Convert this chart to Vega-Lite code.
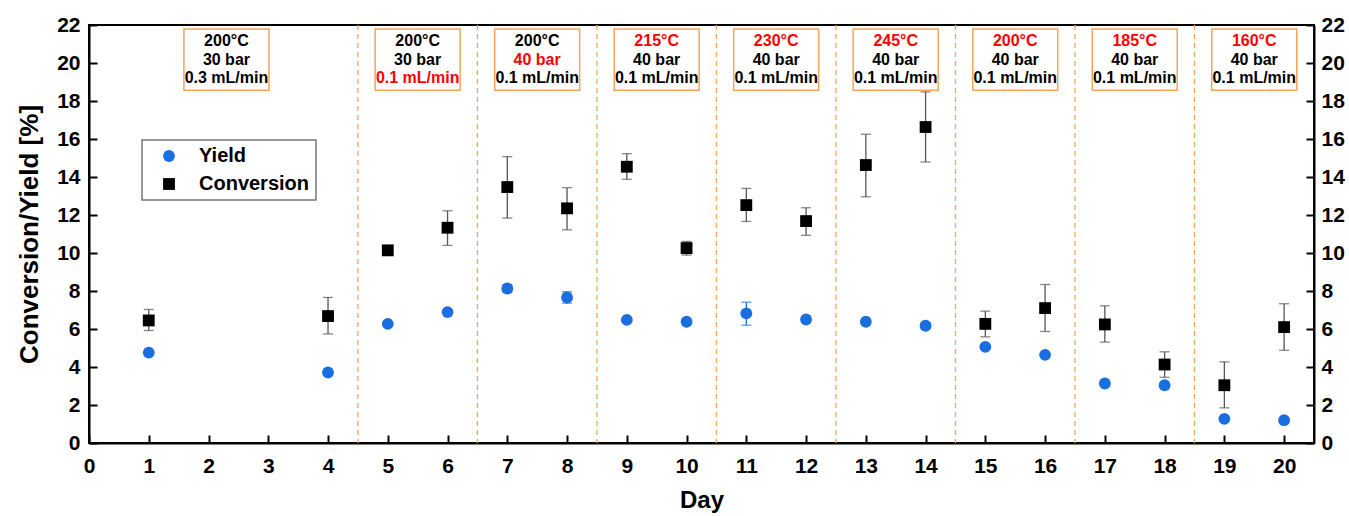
{
  "$schema": "https://vega.github.io/schema/vega-lite/v6.json",
  "width": 1225,
  "height": 418,
  "autosize": {"type": "none"},
  "padding": {"left": 89, "top": 25, "right": 35, "bottom": 73},
  "background": "white",
  "config": {
    "view": {"stroke": "black", "strokeWidth": 2},
    "font": "Liberation Sans",
    "axis": {
      "grid": false,
      "domainColor": "black",
      "domainWidth": 2,
      "tickColor": "black",
      "tickWidth": 2,
      "labelFont": "Liberation Sans",
      "labelFontSize": 21,
      "labelFontWeight": "bold",
      "labelColor": "black",
      "labelOverlap": false,
      "titleFont": "Liberation Sans",
      "titleFontWeight": "bold",
      "titleColor": "black"
    },
    "axisY": {
      "values": [0,1,2,3,4,5,6,7,8,9,10,11,12,13,14,15,16,17,18,19,20,21,22],
      "labelExpr": "datum.value % 2 == 0 ? datum.label : ''",
      "tickSize": {"condition": {"test": "datum.value % 2 == 1", "value": -4}, "value": -8}
    },
    "legend": {
      "orient": "none",
      "legendX": 53,
      "legendY": 115,
      "strokeColor": "#777777",
      "strokeWidth": 1.5,
      "padding": 6,
      "symbolOffset": 11,
      "labelFont": "Liberation Sans",
      "labelFontSize": 20,
      "labelFontWeight": "bold",
      "labelColor": "black",
      "labelOffset": 20,
      "rowPadding": 8,
      "symbolSize": 140,
      "symbolStrokeWidth": 0,
      "fillColor": "white"
    }
  },
  "datasets": {
    "pts": [
      {"day": 1, "series": "Conversion", "value": 6.45, "lo": 5.92, "hi": 7.03},
      {"day": 4, "series": "Conversion", "value": 6.68, "lo": 5.74, "hi": 7.66},
      {"day": 5, "series": "Conversion", "value": 10.14, "lo": 10.02, "hi": 10.26},
      {"day": 6, "series": "Conversion", "value": 11.33, "lo": 10.40, "hi": 12.22},
      {"day": 7, "series": "Conversion", "value": 13.47, "lo": 11.84, "hi": 15.07},
      {"day": 8, "series": "Conversion", "value": 12.35, "lo": 11.22, "hi": 13.44},
      {"day": 9, "series": "Conversion", "value": 14.54, "lo": 13.88, "hi": 15.23},
      {"day": 10, "series": "Conversion", "value": 10.26, "lo": 9.89, "hi": 10.61},
      {"day": 11, "series": "Conversion", "value": 12.52, "lo": 11.66, "hi": 13.40},
      {"day": 12, "series": "Conversion", "value": 11.68, "lo": 10.93, "hi": 12.38},
      {"day": 13, "series": "Conversion", "value": 14.63, "lo": 12.96, "hi": 16.25},
      {"day": 14, "series": "Conversion", "value": 16.63, "lo": 14.79, "hi": 18.48},
      {"day": 15, "series": "Conversion", "value": 6.27, "lo": 5.59, "hi": 6.94},
      {"day": 16, "series": "Conversion", "value": 7.10, "lo": 5.87, "hi": 8.34},
      {"day": 17, "series": "Conversion", "value": 6.24, "lo": 5.31, "hi": 7.22},
      {"day": 18, "series": "Conversion", "value": 4.13, "lo": 3.46, "hi": 4.80},
      {"day": 19, "series": "Conversion", "value": 3.04, "lo": 1.85, "hi": 4.27},
      {"day": 20, "series": "Conversion", "value": 6.10, "lo": 4.88, "hi": 7.33},
      {"day": 1, "series": "Yield", "value": 4.76, "lo": null, "hi": null},
      {"day": 4, "series": "Yield", "value": 3.71, "lo": null, "hi": null},
      {"day": 5, "series": "Yield", "value": 6.27, "lo": null, "hi": null},
      {"day": 6, "series": "Yield", "value": 6.89, "lo": null, "hi": null},
      {"day": 7, "series": "Yield", "value": 8.13, "lo": 7.92, "hi": 8.34},
      {"day": 8, "series": "Yield", "value": 7.66, "lo": 7.36, "hi": 7.96},
      {"day": 9, "series": "Yield", "value": 6.48, "lo": null, "hi": null},
      {"day": 10, "series": "Yield", "value": 6.38, "lo": null, "hi": null},
      {"day": 11, "series": "Yield", "value": 6.82, "lo": 6.20, "hi": 7.41},
      {"day": 12, "series": "Yield", "value": 6.50, "lo": null, "hi": null},
      {"day": 13, "series": "Yield", "value": 6.38, "lo": null, "hi": null},
      {"day": 14, "series": "Yield", "value": 6.17, "lo": 6.02, "hi": 6.32},
      {"day": 15, "series": "Yield", "value": 5.06, "lo": null, "hi": null},
      {"day": 16, "series": "Yield", "value": 4.64, "lo": null, "hi": null},
      {"day": 17, "series": "Yield", "value": 3.13, "lo": null, "hi": null},
      {"day": 18, "series": "Yield", "value": 3.04, "lo": null, "hi": null},
      {"day": 19, "series": "Yield", "value": 1.27, "lo": null, "hi": null},
      {"day": 20, "series": "Yield", "value": 1.20, "lo": null, "hi": null}
    ],
    "seps": [
      {"boundary": 4.5}, {"boundary": 6.5}, {"boundary": 8.5}, {"boundary": 10.5},
      {"boundary": 12.5}, {"boundary": 14.5}, {"boundary": 16.5}, {"boundary": 18.5}
    ],
    "conds": [
      {"center": 2.3, "ymid": 20.18, "temp": "200°C", "pres": "30 bar", "flow": "0.3 mL/min", "changed": "none"},
      {"center": 5.5, "ymid": 20.18, "temp": "200°C", "pres": "30 bar", "flow": "0.1 mL/min", "changed": "flow"},
      {"center": 7.5, "ymid": 20.18, "temp": "200°C", "pres": "40 bar", "flow": "0.1 mL/min", "changed": "pres"},
      {"center": 9.5, "ymid": 20.18, "temp": "215°C", "pres": "40 bar", "flow": "0.1 mL/min", "changed": "temp"},
      {"center": 11.5, "ymid": 20.18, "temp": "230°C", "pres": "40 bar", "flow": "0.1 mL/min", "changed": "temp"},
      {"center": 13.5, "ymid": 20.18, "temp": "245°C", "pres": "40 bar", "flow": "0.1 mL/min", "changed": "temp"},
      {"center": 15.5, "ymid": 20.18, "temp": "200°C", "pres": "40 bar", "flow": "0.1 mL/min", "changed": "temp"},
      {"center": 17.5, "ymid": 20.18, "temp": "185°C", "pres": "40 bar", "flow": "0.1 mL/min", "changed": "temp"},
      {"center": 19.5, "ymid": 20.18, "temp": "160°C", "pres": "40 bar", "flow": "0.1 mL/min", "changed": "temp"}
    ]
  },
  "layer": [
    {
      "layer": [
        {
          "data": {"name": "seps"},
          "mark": {"type": "rule", "color": "#f5a55a", "strokeWidth": 1.3, "strokeDash": [5, 4]},
          "encoding": {
            "x": {"field": "boundary", "type": "quantitative", "scale": {"domain": [0, 20.5], "nice": false},
              "axis": {"orient": "bottom", "title": "Day", "titleFontSize": 24, "titlePadding": 12,
                "values": [0,1,2,3,4,5,6,7,8,9,10,11,12,13,14,15,16,17,18,19,20],
                "format": "d",
                "tickSize": -8, "labelPadding": 20, "labelFlush": false}}
          }
        },
        {
          "data": {"name": "conds"},
          "mark": {"type": "point", "shape": "M-1,-0.72H1V0.72H-1Z", "size": 7225, "filled": true, "fill": "white", "stroke": "#f5a55a", "strokeWidth": 1.5, "opacity": 1},
          "encoding": {
            "x": {"field": "center", "type": "quantitative"},
            "y": {"field": "ymid", "type": "quantitative", "scale": {"domain": [0, 22], "nice": false},
              "axis": {"orient": "left", "title": "Conversion/Yield [%]", "titleFontSize": 26, "titlePadding": 14, "labelPadding": 17}}
          }
        },
        {
          "data": {"name": "conds"},
          "mark": {"type": "text", "fontSize": 16, "fontWeight": "bold", "font": "Liberation Sans", "dy": -18.7, "baseline": "middle"},
          "encoding": {
            "x": {"field": "center", "type": "quantitative"},
            "y": {"field": "ymid", "type": "quantitative"},
            "text": {"field": "temp"},
            "color": {"condition": {"test": "datum.changed == 'temp'", "value": "#ff0000"}, "value": "black"}
          }
        },
        {
          "data": {"name": "conds"},
          "mark": {"type": "text", "fontSize": 16, "fontWeight": "bold", "font": "Liberation Sans", "dy": 0, "baseline": "middle"},
          "encoding": {
            "x": {"field": "center", "type": "quantitative"},
            "y": {"field": "ymid", "type": "quantitative"},
            "text": {"field": "pres"},
            "color": {"condition": {"test": "datum.changed == 'pres'", "value": "#ff0000"}, "value": "black"}
          }
        },
        {
          "data": {"name": "conds"},
          "mark": {"type": "text", "fontSize": 16, "fontWeight": "bold", "font": "Liberation Sans", "dy": 18.7, "baseline": "middle"},
          "encoding": {
            "x": {"field": "center", "type": "quantitative"},
            "y": {"field": "ymid", "type": "quantitative"},
            "text": {"field": "flow"},
            "color": {"condition": {"test": "datum.changed == 'flow'", "value": "#ff0000"}, "value": "black"}
          }
        },
        {
          "data": {"name": "pts"},
          "transform": [{"filter": "isValid(datum.lo)"}],
          "mark": {"type": "rule", "strokeWidth": 1.3},
          "encoding": {
            "x": {"field": "day", "type": "quantitative"},
            "y": {"field": "lo", "type": "quantitative"},
            "y2": {"field": "hi"},
            "color": {"condition": {"test": "datum.series == 'Yield'", "value": "#1a6fe0"}, "value": "#555555"}
          }
        },
        {
          "data": {"name": "pts"},
          "transform": [{"filter": "isValid(datum.lo)"}],
          "mark": {"type": "tick", "orient": "horizontal", "size": 10, "thickness": 1.3},
          "encoding": {
            "x": {"field": "day", "type": "quantitative"},
            "y": {"field": "lo", "type": "quantitative"},
            "color": {"condition": {"test": "datum.series == 'Yield'", "value": "#1a6fe0"}, "value": "#555555"}
          }
        },
        {
          "data": {"name": "pts"},
          "transform": [{"filter": "isValid(datum.hi)"}],
          "mark": {"type": "tick", "orient": "horizontal", "size": 10, "thickness": 1.3},
          "encoding": {
            "x": {"field": "day", "type": "quantitative"},
            "y": {"field": "hi", "type": "quantitative"},
            "color": {"condition": {"test": "datum.series == 'Yield'", "value": "#1a6fe0"}, "value": "#555555"}
          }
        },
        {
          "data": {"name": "pts"},
          "mark": {"type": "point", "filled": true, "size": 140, "opacity": 1},
          "encoding": {
            "x": {"field": "day", "type": "quantitative"},
            "y": {"field": "value", "type": "quantitative"},
            "color": {"field": "series", "type": "nominal", "scale": {"domain": ["Yield", "Conversion"], "range": ["#1a6fe0", "#000000"]}, "legend": {"title": null}},
            "shape": {"field": "series", "type": "nominal", "scale": {"domain": ["Yield", "Conversion"], "range": ["circle", "square"]}, "legend": {"title": null}}
          }
        }
      ]
    },
    {
      "data": {"name": "pts"},
      "mark": {"type": "point", "opacity": 0},
      "encoding": {
        "x": {"field": "day", "type": "quantitative"},
        "y": {"field": "value", "type": "quantitative",
          "axis": {"orient": "right", "title": null, "labelPadding": 15}}
      }
    }
  ],
  "resolve": {"axis": {"y": "independent"}}
}
